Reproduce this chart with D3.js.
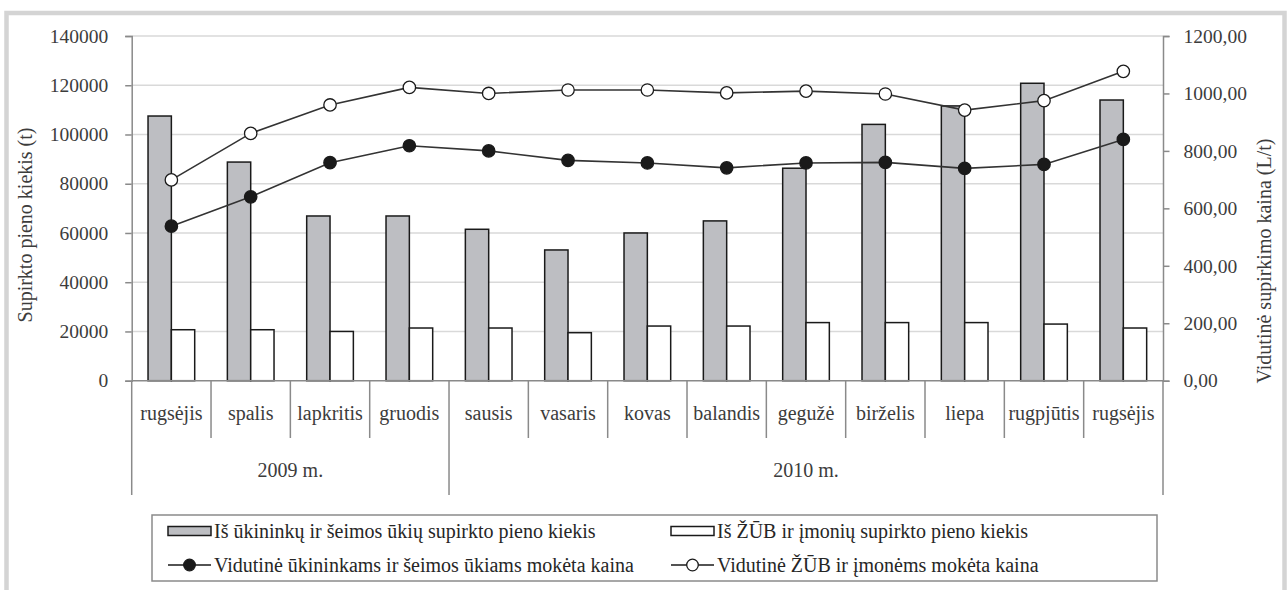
<!DOCTYPE html>
<html>
<head>
<meta charset="utf-8">
<script src="https://cdn.jsdelivr.net/npm/d3@7"></script>
<style>
  body { margin: 0; background: #fff; }
  svg text { font-family: "Liberation Serif", "Times New Roman", Times, serif; }
</style>
</head>
<body>
<div id="chart"></div>
<script>
'use strict';

// months on the x axis (Sep 2009 .. Sep 2010)
let months = ['rugsėjis', 'spalis', 'lapkritis', 'gruodis', 'sausis', 'vasaris', 'kovas',
              'balandis', 'gegužė', 'birželis', 'liepa', 'rugpjūtis', 'rugsėjis'];
let years = [{label: '2009 m.', from: 0, to: 4}, {label: '2010 m.', from: 4, to: 13}];

// milk quantity, t (left axis)
let farmQty = [107500, 88800, 66900, 66900, 61500, 53100, 60000, 64900, 86300, 104100, 111600, 120800, 114000];
let coopQty = [20700, 20700, 20000, 21400, 21400, 19500, 22200, 22200, 23600, 23600, 23600, 23000, 21400];

// average price, Lt/t (right axis)
let farmPrice = [538, 640, 759, 818, 800, 767, 758, 741, 758, 760, 739, 753, 840];
let coopPrice = [699, 861, 960, 1021, 1000, 1012, 1012, 1002, 1008, 998, 942, 975, 1077];

let leftTicks = [0, 20000, 40000, 60000, 80000, 100000, 120000, 140000];
let rightTicks = [0, 200, 400, 600, 800, 1000, 1200];

let legendItems = [
    {label: 'Iš ūkininkų ir šeimos ūkių supirkto pieno kiekis', type: 'bar', fill: '#bdbec2'},
    {label: 'Iš ŽŪB ir įmonių supirkto pieno kiekis', type: 'bar', fill: '#fff'},
    {label: 'Vidutinė ūkininkams ir šeimos ūkiams mokėta kaina', type: 'line', fill: '#1a1a1a'},
    {label: 'Vidutinė ŽŪB ir įmonėms mokėta kaina', type: 'line', fill: '#fff'}
];

let width = 1287, height = 590;
let plotLeft = 131.7, plotRight = 1163, plotTop = 36, base = 380.7;
let textCol = '#3c3c3c', axisCol = '#8a8a8a', gridCol = '#d9d9d9', ink = '#1a1a1a';

var svg = d3.select('#chart').append('svg')
    .attr('width', width)
    .attr('height', height);

svg.append('rect').attr('width', width).attr('height', height).attr('fill', '#fff');

// grey frame round the figure
svg.append('rect')
    .attr('x', 6.5).attr('y', 13).attr('width', 1278).attr('height', 700)
    .attr('fill', 'none').attr('stroke', '#d4d4d4').attr('stroke-width', 4.5);

var x = d3.scaleBand().domain(d3.range(months.length)).range([plotLeft, plotRight]);
var xSub = d3.scaleBand().domain(['farm', 'coop']).range([0, x.bandwidth()]).paddingOuter(0.7);
var y = d3.scaleLinear().domain([0, 140000]).range([base, plotTop]);
var y2 = d3.scaleLinear().domain([0, 1200]).range([base, plotTop]);

// gridlines
svg.append('g').selectAll('line')
    .data(leftTicks.filter(function(d) { return d > 0; }))
    .enter().append('line')
    .attr('x1', plotLeft).attr('x2', plotRight)
    .attr('y1', function(d) { return y(d); })
    .attr('y2', function(d) { return y(d); })
    .attr('stroke', gridCol).attr('stroke-width', 1.5);

// axes
var yAxis = d3.axisLeft(y).tickValues(leftTicks).tickSize(6.5).tickPadding(17)
    .tickFormat(d3.format('d'));
var y2Axis = d3.axisRight(y2).tickValues(rightTicks).tickSize(6.5).tickPadding(14)
    .tickFormat(function(d) { return d.toFixed(2).replace('.', ','); });

var gl = svg.append('g').attr('transform', 'translate(' + plotLeft + ',0)').call(yAxis);
var gr = svg.append('g').attr('transform', 'translate(' + plotRight + ',0)').call(y2Axis);
[gl, gr].forEach(function(g) {
    g.select('.domain').attr('stroke', axisCol).attr('stroke-width', 1.5);
    g.selectAll('.tick line').attr('stroke', axisCol).attr('stroke-width', 1.5);
    g.selectAll('.tick text').attr('fill', textCol).style('font-size', '19.5px');
});

// bars
var bars = svg.append('g');
bars.selectAll('rect.farm')
    .data(farmQty)
    .enter().append('rect')
    .attr('class', 'farm')
    .attr('x', function(d, i) { return x(i) + xSub('farm'); })
    .attr('y', function(d) { return y(d); })
    .attr('width', xSub.bandwidth())
    .attr('height', function(d) { return base - y(d); })
    .attr('fill', '#bdbec2').attr('stroke', ink).attr('stroke-width', 1.5);

bars.selectAll('rect.coop')
    .data(coopQty)
    .enter().append('rect')
    .attr('class', 'coop')
    .attr('x', function(d, i) { return x(i) + xSub('coop'); })
    .attr('y', function(d) { return y(d); })
    .attr('width', xSub.bandwidth())
    .attr('height', function(d) { return base - y(d); })
    .attr('fill', '#fff').attr('stroke', ink).attr('stroke-width', 1.5);

// category axis: baseline, separators, labels
svg.append('line')
    .attr('x1', plotLeft).attr('x2', plotRight).attr('y1', base).attr('y2', base)
    .attr('stroke', axisCol).attr('stroke-width', 1.5);

var groupEdges = [0];
years.forEach(function(g) { groupEdges.push(g.to); });

svg.append('g').selectAll('line')
    .data(d3.range(months.length + 1))
    .enter().append('line')
    .attr('x1', function(i) { return i < months.length ? x(i) : plotRight; })
    .attr('x2', function(i) { return i < months.length ? x(i) : plotRight; })
    .attr('y1', base)
    .attr('y2', function(i) { return groupEdges.indexOf(i) >= 0 ? 495 : 438; })
    .attr('stroke', axisCol).attr('stroke-width', 1.5);

svg.append('g').selectAll('text')
    .data(months)
    .enter().append('text')
    .attr('x', function(d, i) { return x(i) + x.bandwidth() / 2; })
    .attr('y', 420)
    .attr('text-anchor', 'middle')
    .attr('fill', textCol).style('font-size', '20px')
    .text(function(d) { return d; });

svg.append('g').selectAll('text')
    .data(years)
    .enter().append('text')
    .attr('x', function(d) { return (x(d.from) + (d.to < months.length ? x(d.to) : plotRight)) / 2; })
    .attr('y', 477)
    .attr('text-anchor', 'middle')
    .attr('fill', textCol).style('font-size', '20px')
    .text(function(d) { return d.label; });

// price lines
var cx = function(d, i) { return x(i) + x.bandwidth() / 2; };
var drawLine = function(values, fill) {
    var line = d3.line().x(cx).y(function(d) { return y2(d); });
    svg.append('path')
        .datum(values)
        .attr('d', line)
        .attr('fill', 'none').attr('stroke', '#333').attr('stroke-width', 1.6);
    svg.append('g').selectAll('circle')
        .data(values)
        .enter().append('circle')
        .attr('cx', cx)
        .attr('cy', function(d) { return y2(d); })
        .attr('r', 6.2)
        .attr('fill', fill).attr('stroke', ink).attr('stroke-width', 1.3);
};
drawLine(coopPrice, '#fff');
drawLine(farmPrice, ink);

// axis titles
svg.append('text')
    .attr('transform', 'translate(32,225) rotate(-90)')
    .attr('text-anchor', 'middle')
    .attr('fill', textCol).style('font-size', '20px')
    .text('Supirkto pieno kiekis (t)');

svg.append('text')
    .attr('transform', 'translate(1271,261) rotate(-90)')
    .attr('text-anchor', 'middle')
    .attr('fill', textCol).style('font-size', '20px')
    .text('Vidutinė supirkimo kaina (L/t)');

// legend
svg.append('rect')
    .attr('x', 152).attr('y', 515).attr('width', 1005).attr('height', 66)
    .attr('fill', '#fff').attr('stroke', axisCol).attr('stroke-width', 1.5);

var legendPos = [[168, 531], [671, 531], [168, 565], [671, 565]];
var lg = svg.append('g').selectAll('g')
    .data(legendItems)
    .enter().append('g')
    .attr('transform', function(d, i) { return 'translate(' + legendPos[i][0] + ',' + legendPos[i][1] + ')'; });

lg.each(function(d) {
    var g = d3.select(this);
    if (d.type == 'bar') {
        g.append('rect').attr('x', 0).attr('y', -4.5).attr('width', 43).attr('height', 9)
            .attr('fill', d.fill).attr('stroke', ink).attr('stroke-width', 1.5);
    } else {
        g.append('line').attr('x1', 0).attr('x2', 43).attr('y1', 0).attr('y2', 0)
            .attr('stroke', ink).attr('stroke-width', 1.6);
        g.append('circle').attr('cx', 21.5).attr('cy', 0).attr('r', 5.8)
            .attr('fill', d.fill).attr('stroke', ink).attr('stroke-width', 1.3);
    }
    g.append('text').attr('x', 46).attr('y', 6.5)
        .attr('fill', '#262626').style('font-size', '20px')
        .text(d.label);
});
</script>
</body>
</html>
